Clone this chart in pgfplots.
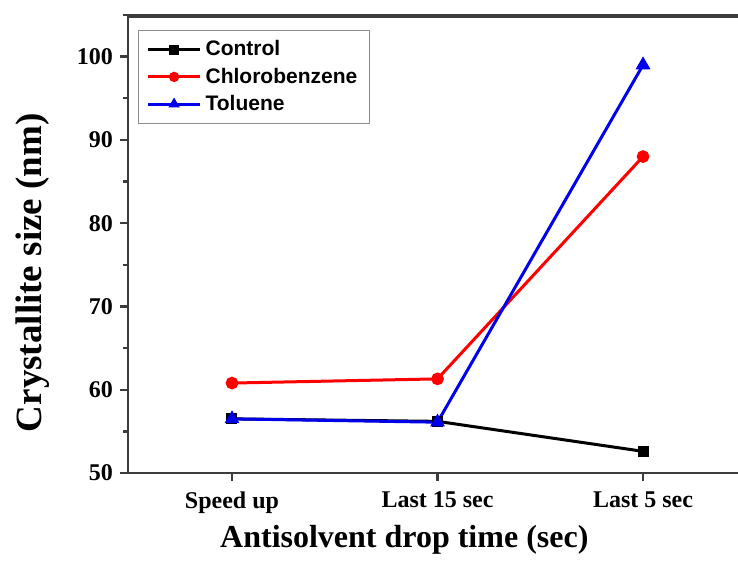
\documentclass[border=0pt]{standalone}
\usepackage{pgfplots}
\pgfplotsset{compat=1.18}
\usetikzlibrary{calc}
\usepackage{fontspec}
\setmainfont{Liberation Serif}
\newfontfamily\legendfont{Liberation Sans}

\definecolor{ctrl}{RGB}{0,0,0}
\definecolor{cb}{RGB}{255,0,0}
\definecolor{tol}{RGB}{0,0,235}
\definecolor{framegray}{RGB}{60,60,60}

\pgfplotstableread{
x  control  chloro  toluene
0  56.5     60.8    56.5
1  56.2     61.3    56.1
2  52.6     88.0    99.0
}\sizes

\begin{document}
\begin{tikzpicture}
\begin{axis}[
  name=main,
  scale only axis,
  width=305pt, height=229pt,
  xmin=-0.506, xmax=2.462,
  ymin=50, ymax=105,
  axis x line*=box,
  axis y line*=left,
  axis line style={line width=1.3pt, color=framegray},
  xtick={0,1,2},
  xticklabels={Speed up, Last 15 sec, Last 5 sec},
  ytick={50,60,...,100},
  minor ytick={55,65,...,105},
  tick align=outside,
  major tick length=4pt, minor tick length=2.5pt,
  tick style={line width=1.2pt, color=framegray},
  x tick style={draw=none},
  /pgf/number format/assume math mode=true,
  ticklabel style={font=\bfseries\fontsize{12}{14}\selectfont},
  xticklabel style={yshift=-2pt},
  xticklabel pos=bottom,
  xlabel={Antisolvent drop time (sec)},
  ylabel={Crystallite size (nm)},
  xlabel style={font=\bfseries\fontsize{16}{19}\selectfont,
    at={(axis description cs:0.453,-0.146)}, anchor=center},
  ylabel style={font=\bfseries\fontsize{18.5}{21}\selectfont,
    at={(axis description cs:-0.157,0.437)}, anchor=center},
  legend style={at={(axis description cs:0,1)}, anchor=north west,
    xshift=5pt, yshift=-7.5pt, draw=black!45, line width=0.6pt,
    font=\legendfont\bfseries\fontsize{10.5}{12}\selectfont,
    inner xsep=4pt, inner ysep=3pt, row sep=0.5pt},
  legend cell align=left,
  legend image code/.code={
    \draw[#1] (0pt,0pt) -- (26pt,0pt);
    \draw[#1, mark size=1.8pt, mark repeat=2, mark phase=2] plot coordinates {(0pt,0pt) (13pt,0pt) (26pt,0pt)};
  },
  every axis plot/.append style={line width=1.5pt},
]
\addplot[ctrl, mark=square*, mark size=2pt] table[x=x, y=control] {\sizes};
\addlegendentry{Control}
\addplot[cb, mark=*, mark size=2.4pt] table[x=x, y=chloro] {\sizes};
\addlegendentry{Chlorobenzene}
\addplot[tol, mark=triangle*, mark size=2.8pt] table[x=x, y=toluene] {\sizes};
\addlegendentry{Toluene}
\end{axis}
% top edge of the frame, as a thin bar just inside the plotting area
\fill[framegray] ([yshift=-1.4pt]main.north west) rectangle (main.north east);
% outward category ticks under the bottom axis line
\foreach \i in {0,1,2} {
  \draw[line width=1.2pt, framegray]
    ($(main.south west)!{(\i+0.506)/2.968}!(main.south east)$) -- ++(0,-4pt);
}
\pgfresetboundingbox
\path[use as bounding box] (main.south west) ++(-64pt,-48pt)
  rectangle ([yshift=7.5pt]main.north east);
\end{tikzpicture}
\end{document}
